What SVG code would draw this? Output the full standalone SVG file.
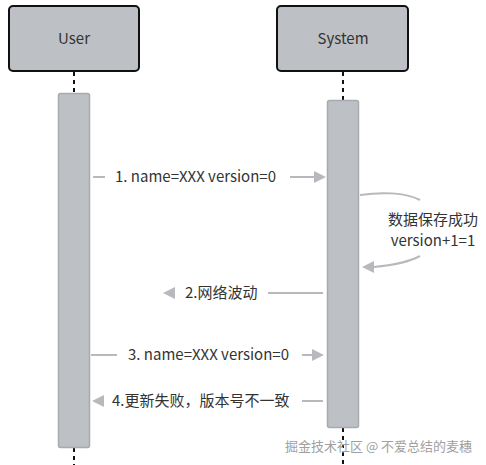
<svg xmlns="http://www.w3.org/2000/svg" width="486" height="465" viewBox="0 0 486 465">
<style>
.actor{fill:#bdc0c5;stroke:#111;stroke-width:2}
.act{fill:#bdc0c5;stroke:#a7aaaf;stroke-width:1.5}
.life{stroke:#111;stroke-width:2;stroke-dasharray:4 4}
.msg{stroke:#b7b9bd;stroke-width:2;fill:none}
.head{fill:#b7b9bd}
text{font-family:"Noto Sans CJK SC","Noto Sans",sans-serif;fill:#333}
.lbl{font-size:15px}
.name{font-size:15px;text-anchor:middle}
.wm{font-size:13px;fill:#a0a0a0;stroke:#fff;stroke-width:0.6;paint-order:stroke}
</style>
<rect width="486" height="465" fill="#fff"/>
<g id="user">
<rect class="actor" x="9" y="6" width="130" height="65" rx="4"/>
<text class="name" x="74" y="44">User</text>
<line class="life" x1="74" y1="72" x2="74" y2="93"/>
<line class="life" x1="74" y1="448" x2="74" y2="465"/>
<rect class="act" x="58.5" y="93.5" width="31" height="354" rx="2"/>
</g>
<g id="system">
<rect class="actor" x="277" y="6" width="131" height="65" rx="4"/>
<text class="name" x="343" y="44">System</text>
<line class="life" x1="343" y1="72" x2="343" y2="100"/>
<line class="life" x1="343" y1="428" x2="343" y2="465"/>
<rect class="act" x="327.5" y="100.5" width="31" height="327" rx="2"/>
</g>
<g id="connectors">
<line class="msg" x1="93" y1="177" x2="105" y2="177"/>
<line class="msg" x1="290" y1="177" x2="315" y2="177"/>
<polygon class="head" points="326,177 314,171 314,183"/>
<text class="lbl" x="115" y="182">1. name=XXX version=0</text>

<path class="msg" d="M360,195 C380,192 405,192 420,200"/>
<path class="msg" d="M420,256 C405,264 385,266 374,267"/>
<polygon class="head" points="362,267 374,261 374,273"/>
<text class="lbl" x="433" y="225" text-anchor="middle">数据保存成功</text>
<text class="lbl" x="433" y="246" text-anchor="middle">version+1=1</text>

<line class="msg" x1="268" y1="293" x2="323" y2="293"/>
<polygon class="head" points="163,293 175,287 175,299"/>
<text class="lbl" x="185" y="298">2.网络波动</text>

<line class="msg" x1="91" y1="355" x2="117" y2="355"/>
<line class="msg" x1="302" y1="355" x2="313" y2="355"/>
<polygon class="head" points="324,355 312,349 312,361"/>
<text class="lbl" x="128" y="360">3. name=XXX version=0</text>

<polygon class="head" points="92,401 104,395 104,407"/>
<line class="msg" x1="302" y1="401" x2="323" y2="401"/>
<text class="lbl" x="112" y="406">4.更新失败，版本号不一致</text>
</g>
<text class="wm" x="285" y="451">掘金技术社区 @ 不爱总结的麦穗</text>
</svg>
